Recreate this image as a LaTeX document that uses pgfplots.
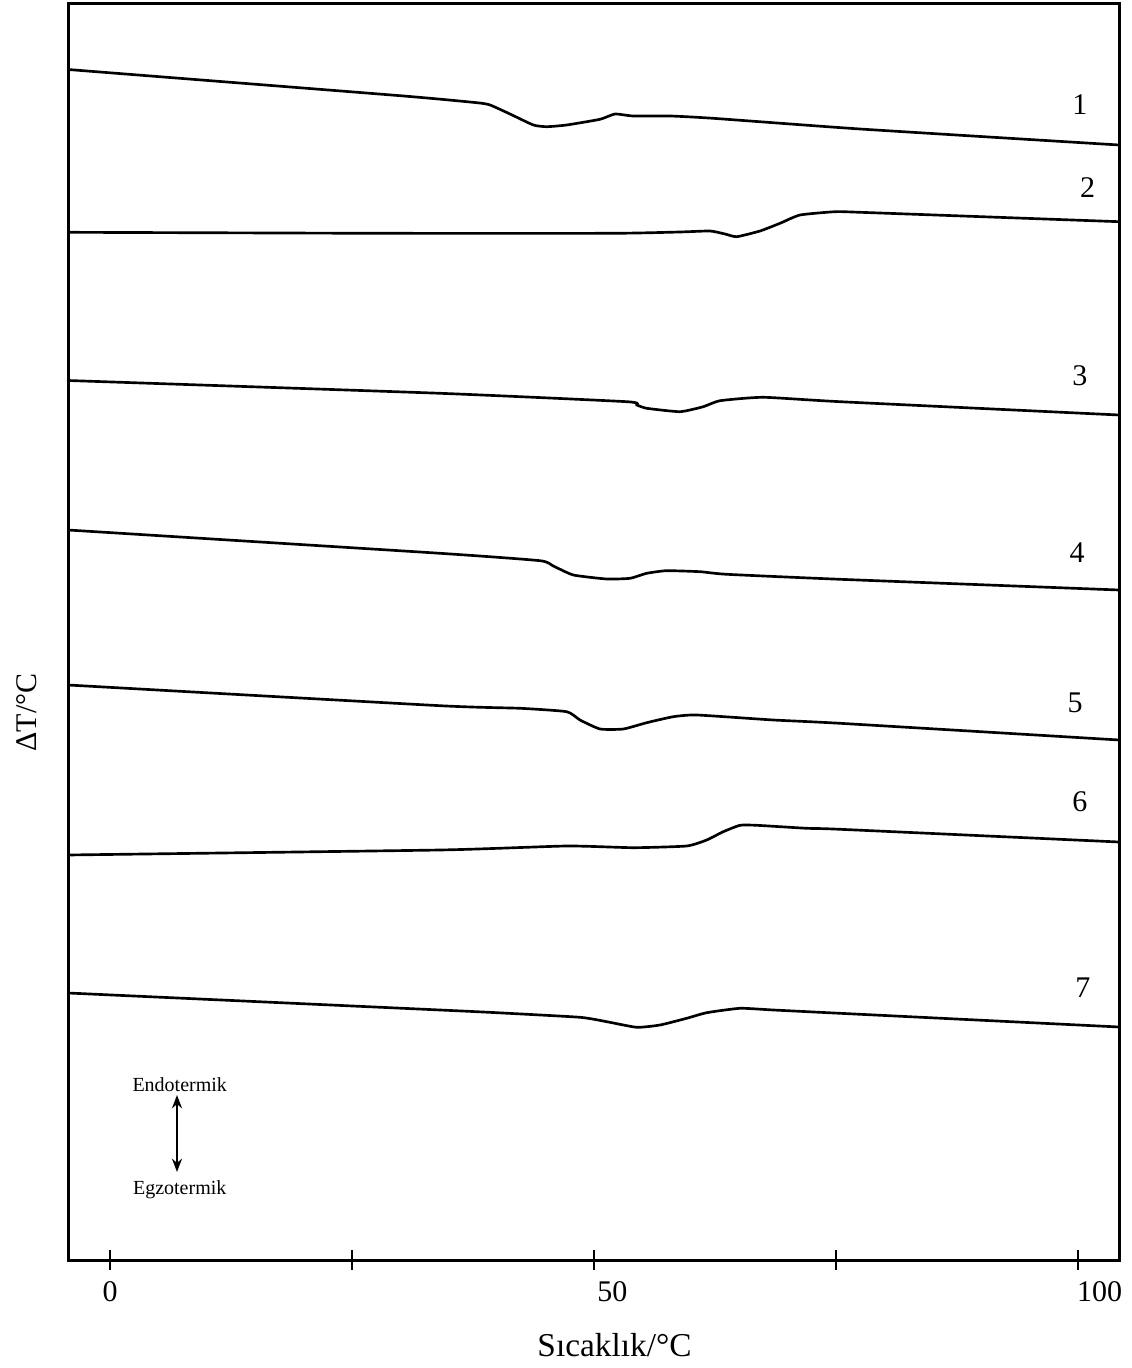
\documentclass[border=0pt]{standalone}
\usepackage{fontspec}
\setmainfont{Liberation Serif}
\usepackage{pgfplots}
\pgfplotsset{compat=1.18}
\usetikzlibrary{arrows.meta}

\begin{document}
\begin{tikzpicture}
\useasboundingbox (-20.4pt,-32.4pt) rectangle (319.2pt,378pt);
\begin{axis}[
  scale only axis, width=315.3pt, height=376.8pt,
  xmin=-4.34, xmax=104.23, ymin=0, ymax=1256,
  axis line style={line width=0.9pt},
  xtick={0,25,50,75,100}, xticklabels={0,,\hspace{11pt}50,,\hspace{13pt}100},
  ytick=\empty, xtick pos=bottom,
  xtick align=center, major tick length=6pt,
  tick style={line width=0.8pt, black},
  /pgf/number format/assume math mode=true,
  ticklabel style={font=\fontsize{9}{10}\selectfont},
  xlabel={Sıcaklık/°C}, ylabel={ΔT/°C},
  xlabel style={at={(axis description cs:0.52,-0.0677)}, anchor=center, font=\fontsize{10}{12}\selectfont},
  ylabel style={at={(axis description cs:-0.039,0.436)}, anchor=center, font=\fontsize{9}{11}\selectfont},
  clip=false,
  cycle list={{black,solid}},
  every axis plot/.append style={no markers, smooth, tension=0.3, line width=0.8pt},
]
% curve 1
\addplot coordinates {(-4.34,1190.5) (29.96,1164.3) (37.88,1157.3) (39.26,1155) (41.32,1146) (43.73,1135) (45.11,1133.3) (47.18,1135) (50.62,1140.7) (52.17,1146) (54.03,1144) (57.85,1144) (62.29,1141.7) (77.48,1131) (104.23,1115)};
% curve 2
\addplot coordinates {(-4.34,1027.7) (27.89,1026.7) (51.96,1026.7) (58.88,1028) (61.98,1029) (63.53,1026) (64.74,1023.3) (67.15,1029) (69.21,1036.7) (71.28,1045) (74.90,1048.3) (77.48,1047.7) (104.23,1038.3)};
% curve 3
\addplot coordinates {(-4.34,879.5) (34.09,866.7) (53.38,858.3) (54.41,855) (55.44,851.7) (58.88,848.3) (61.29,853.3) (63.02,859.3) (67.49,862.7) (75.41,858.3) (104.23,845)};
% curve 4
\addplot coordinates {(-4.34,730) (34.09,706.7) (44.42,699.3) (45.79,694) (47.86,685) (51.31,681) (53.72,681.7) (55.44,686.7) (57.50,689.3) (60.95,688.3) (63.71,685.7) (75.41,680.7) (104.23,670)};
% curve 5
\addplot coordinates {(-4.34,575) (34.09,554.3) (42.36,551.7) (47.18,548.3) (48.55,540) (50.62,531) (53.03,531) (55.44,537.3) (58.19,543.3) (60.61,545) (68.52,540) (75.41,536.7) (104.23,520)};
% curve 6
\addplot coordinates {(-4.34,405) (34.09,410) (47.18,414) (54.06,412.3) (59.57,414) (61.64,420) (63.35,428.3) (65.08,434.7) (66.80,434.7) (71.97,431.7) (75.41,430.7) (104.23,418)};
% curve 7
\addplot coordinates {(-4.34,267) (34.09,250) (39.95,247.3) (48.55,242.7) (51.31,238.3) (54.41,232.7) (56.82,235) (59.57,241.7) (61.64,247.3) (65.08,251.7) (68.52,250) (75.41,246.7) (104.23,233)};

\begin{scope}[every node/.style={font=\fontsize{9}{10}\selectfont}]
\node at (axis cs:100.2,1155) {1};
\node at (axis cs:101.0,1072) {2};
\node at (axis cs:100.2,884) {3};
\node at (axis cs:99.9,707) {4};
\node at (axis cs:99.7,557) {5};
\node at (axis cs:100.2,458) {6};
\node at (axis cs:100.5,272) {7};
\end{scope}
\node[font=\fontsize{6}{7}\selectfont] at (axis cs:7.2,175) {Endotermik};
\node[font=\fontsize{6}{7}\selectfont] at (axis cs:7.2,70) {Egzotermik};
\draw[{Stealth[length=4pt,width=3pt]}-{Stealth[length=4pt,width=3pt]}, line width=0.7pt] (axis cs:6.92,165) -- (axis cs:6.92,88);
\end{axis}
\end{tikzpicture}
\end{document}
